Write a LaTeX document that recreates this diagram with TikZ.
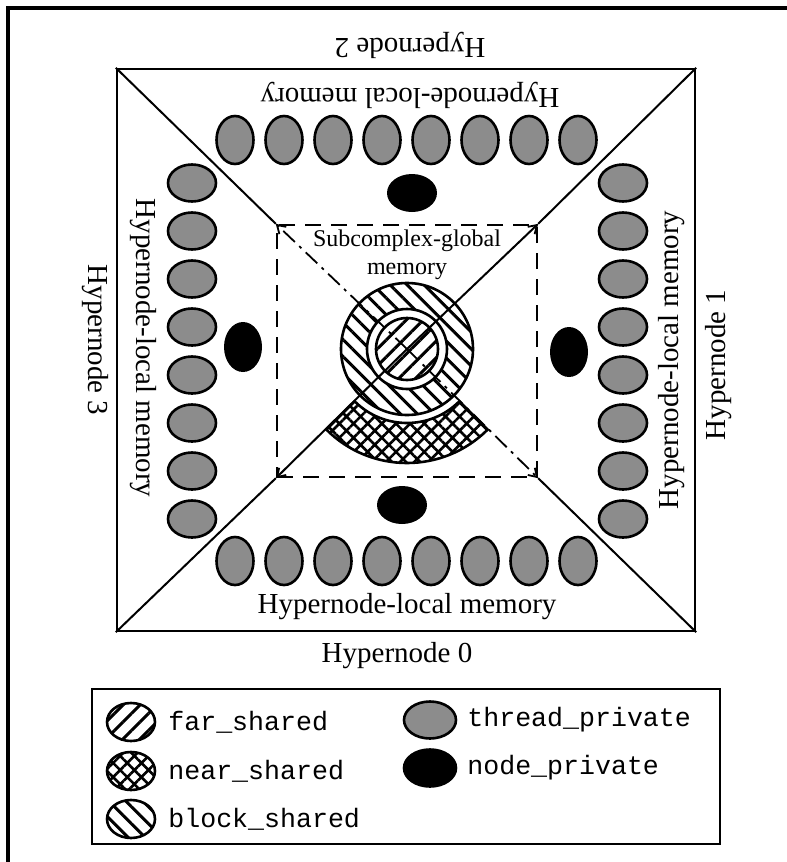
\documentclass[tikz,border=0pt]{standalone}
\usepackage{fontspec}
\setmainfont{Liberation Serif}
\setmonofont{Liberation Mono}
\usetikzlibrary{shapes.geometric,patterns.meta,arrows.meta,calc}
\begin{document}
\begin{tikzpicture}[x=0.5pt,y=-0.5pt,
  thr/.style={ellipse,draw,line width=1.3pt,fill=black!45,inner sep=0pt,minimum width=18.5pt,minimum height=24pt},
  thrh/.style={thr,minimum width=24pt,minimum height=18.5pt},
  blk/.style={ellipse,fill=black,inner sep=0pt,minimum width=25pt,minimum height=19pt},
  blkv/.style={blk,minimum width=19pt,minimum height=25pt},
  lab/.style={font=\fontsize{14.5}{17}\selectfont,inner sep=0pt},
  sublab/.style={font=\fontsize{12}{13}\selectfont,inner sep=0pt,align=center},
  mono/.style={font=\ttfamily\fontsize{13.3}{16}\selectfont,anchor=west,inner sep=0pt},
  farp/.style={pattern={Lines[angle=45,distance=6pt,line width=1.5pt]}},
  blockp/.style={pattern={Lines[angle=-45,distance=6pt,line width=1.5pt]}},
  nearp/.style={pattern={Hatch[angle=45,distance=5pt,line width=1.3pt]}},
  icon/.style={ellipse,draw,line width=1.3pt,inner sep=0pt,minimum width=24pt,minimum height=19pt},
  diag/.style={line width=1pt},
  dd/.style={line width=0.9pt,dash pattern=on 8pt off 3pt on 1.5pt off 3pt},
  tip/.style={-{Straight Barb[length=4pt,width=5pt,line width=0.9pt]}}
]
\useasboundingbox (0,0) rectangle (787,862);
% page frame
\coordinate (fa) at (8,862);
\coordinate (fb) at (8,8);
\coordinate (fc) at (787,8);
\draw[line width=1.6pt] (fa) -- (fb) -- (fc);

% outer square and dashed subcomplex region
\node[draw,line width=1.2pt,minimum width=289pt,minimum height=281pt,inner sep=0pt] (sq) at (406,350) {};
\node[draw,line width=1.2pt,dash pattern=on 8pt off 5pt,minimum width=130pt,minimum height=126pt,inner sep=0pt] (dr) at (407,351) {};
\coordinate (c) at (407,349);

% diagonals
\draw[diag] (sq.north west) -- (dr.north west);
\draw[diag] (sq.south east) -- (dr.south east);
\draw[diag] (sq.south west) -- (dr.south west);
\draw[diag] (sq.north east) -- (dr.north east);
\draw[dd,tip] (c) -- (dr.north west);
\draw[dd,tip] (c) -- (dr.south east);
\draw[diag,tip] (c) -- (dr.south west);
\draw[diag,tip] (c) -- (dr.north east);

% shared memories
\draw[line width=1.3pt,blockp,even odd rule] (c) circle[radius=66] (c) circle[radius=40];
\draw[line width=1.3pt,farp] (c) circle[radius=31];
\draw[line width=1.3pt,nearp] ([shift={(45:114)}]c) arc[start angle=45,end angle=135,radius=114]
  -- ([shift={(135:74)}]c) arc[start angle=135,end angle=45,radius=74] -- cycle;
\node[sublab] (sg) at (407,255) {Subcomplex-global\\[1pt]memory};

% thread_private rows and columns
\foreach \k in {0,...,7} {
  \node[thr] (t\k) at ({235+49*\k},140) {};
  \node[thr] (b\k) at ({235+49*\k},561) {};
  \node[thrh] (l\k) at (192,{183+48*\k}) {};
  \node[thrh] (r\k) at (623,{183+48*\k}) {};
}
% node_private
\node[blk] (nt) at (412,193) {};
\node[blk] (nb) at (402,505) {};
\node[blkv] (nl) at (243,347) {};
\node[blkv] (nr) at (569,352) {};

% labels
\node[lab,rotate=180] (h2) at (410,45) {Hypernode 2};
\node[lab] (h0) at (397,656) {Hypernode 0};
\node[lab,rotate=-90] (h3) at (95,340) {Hypernode 3};
\node[lab,rotate=90] (h1) at (719,365) {Hypernode 1};
\node[lab,rotate=180] (m2) at (410,95) {Hypernode-local memory};
\node[lab] (m0) at (407,607) {Hypernode-local memory};
\node[lab,rotate=-90] (m3) at (143,348) {Hypernode-local memory};
\node[lab,rotate=90] (m1) at (672,360) {Hypernode-local memory};

% legend
\node[draw,line width=1.3pt,minimum width=314pt,minimum height=77.5pt,inner sep=0pt] (leg) at (406,766.5) {};
\node[icon,farp] (i1) at (131,722) {};
\node[icon,nearp] (i2) at (131,771) {};
\node[icon,blockp] (i3) at (131,819) {};
\node[mono] (x1) at (168,722) {far\_shared};
\node[mono] (x2) at (168,771) {near\_shared};
\node[mono] (x3) at (168,819) {block\_shared};
\node[icon,fill=black!45,minimum width=26pt,minimum height=18.5pt] (i4) at (430,720) {};
\node[icon,fill=black,minimum width=26pt,minimum height=18.5pt] (i5) at (430,768) {};
\node[mono] (x4) at (467,720) {thread\_private};
\node[mono] (x5) at (467,768) {node\_private};
\end{tikzpicture}
\end{document}
